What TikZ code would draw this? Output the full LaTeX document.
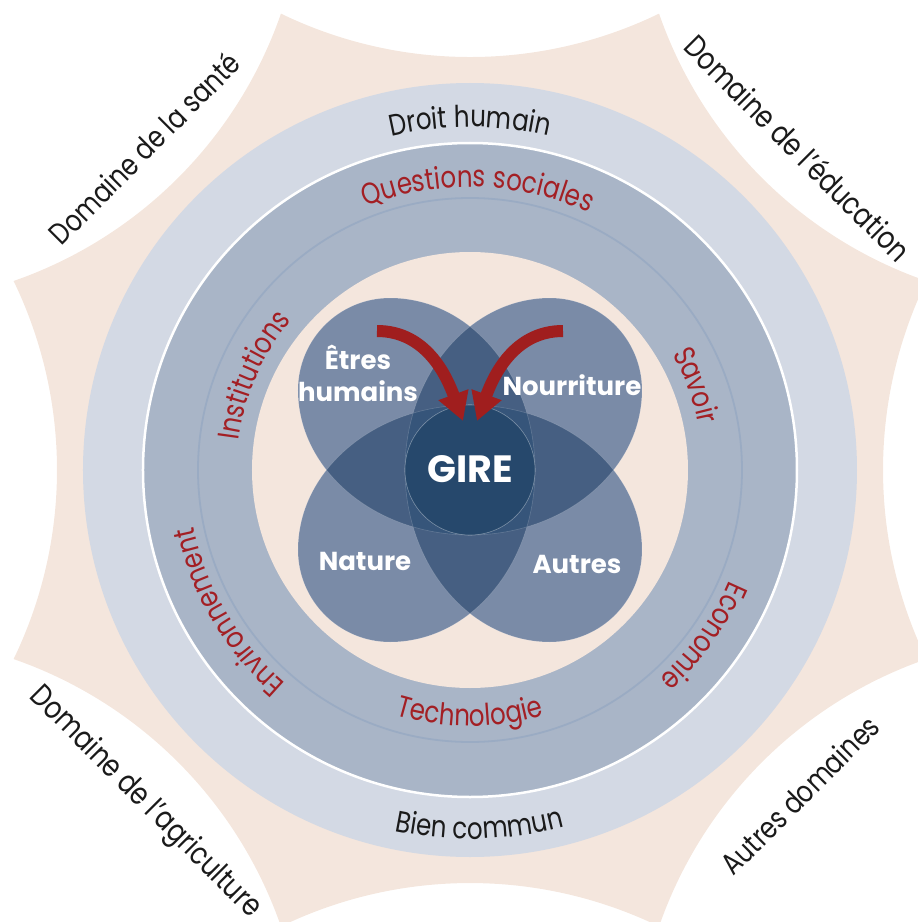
\documentclass[tikz,border=0pt]{standalone}
\usepackage{fontspec}
\setmainfont{Poppins}
\newfontfamily\ringfont[FakeStretch=0.82]{Poppins}
\usetikzlibrary{decorations.text, arrows.meta}

\definecolor{beige}{HTML}{F4E6DD}
\definecolor{ringA}{HTML}{D3D9E4}
\definecolor{ringB}{HTML}{A9B5C7}
\definecolor{thinline}{HTML}{9AABC3}
\definecolor{petA}{HTML}{7A8BA7}
\definecolor{petB}{HTML}{465F82}
\definecolor{petC}{HTML}{36557A}
\definecolor{petD}{HTML}{26486C}
\definecolor{txtred}{HTML}{A31F24}
\definecolor{txtdark}{HTML}{1A1A1A}
\definecolor{arrowred}{HTML}{A01E1E}

\def\petalpath{(0,-65) arc[start angle=270, end angle=180, x radius=172, y radius=145]
  arc[start angle=180, end angle=90, radius=92]
  arc[start angle=90, end angle=0, x radius=145, y radius=172]
  arc[start angle=0, end angle=-90, radius=65] -- cycle}

\tikzset{
  domlabel/.style={font=\ringfont\fontsize{30}{32}\selectfont, text=txtdark, inner sep=0pt},
  petlabel/.style={font=\bfseries\fontsize{26}{32}\selectfont, text=white, inner sep=0pt, align=center},
  redarrow/.style={draw=arrowred, line width=12pt, -{Triangle[width=30pt,length=28pt]}},
  outerring/.style={decorate, decoration={text along path, text align=center,
      text={|\ringfont\fontsize{30}{30}\selectfont\color{txtdark}|#1}}},
  midring/.style={decorate, decoration={text along path, text align=center,
      text={|\ringfont\fontsize{30}{30}\selectfont\color{txtred}|#1}}},
}

\begin{document}
\begin{tikzpicture}[x=1pt,y=1pt]
\useasboundingbox (-470,-452) rectangle (448,470);
\begin{scope}
\clip (-470,-452) rectangle (448,470);
\fill[beige] (112.5:494)
  \foreach \p [evaluate=\p as \sa using \p+154.14, evaluate=\p as \ea using \p+205.86]
  in {90,45,0,-45,-90,-135,-180,-225} { arc[start angle=\sa, end angle=\ea, radius=433.45] } -- cycle;
\end{scope}

% rings
\fill[ringA] (0,0) circle[radius=387];
\fill[ringB] (0,0) circle[radius=327];
\draw[white, line width=2.5pt] (0,0) circle[radius=327];
\draw[thinline, line width=1.8pt] (0,0) circle[radius=272];
\fill[beige] (0,0) circle[radius=218];

% petals
\foreach \r in {0,90,180,270} { \fill[petA, rotate=\r] \petalpath; }
\begin{scope}
  \clip \petalpath;
  \fill[petB, rotate=90] \petalpath;
  \fill[petB, rotate=-90] \petalpath;
\end{scope}
\begin{scope}
  \clip[rotate=180] \petalpath;
  \fill[petB, rotate=90] \petalpath;
  \fill[petB, rotate=-90] \petalpath;
\end{scope}
\begin{scope}
  \clip \petalpath;
  \clip[rotate=-90] \petalpath;
  \fill[petC, rotate=90] \petalpath;
  \fill[petC, rotate=180] \petalpath;
\end{scope}
\begin{scope}
  \clip[rotate=90] \petalpath;
  \clip[rotate=180] \petalpath;
  \fill[petC] \petalpath;
  \fill[petC, rotate=-90] \petalpath;
\end{scope}
\foreach \r in {0,90,180,270} { \draw[white, opacity=0.18, line width=0.6pt, rotate=\r] \petalpath; }

\node[circle, minimum size=130pt, inner sep=0pt, fill=petD, draw=white, draw opacity=0.3, line width=0.6pt] (gire) at (0,0) {};
\node[petlabel, font=\bfseries\fontsize{38}{40}\selectfont, anchor=base] (gtext) at (0,-12) {GIRE};

% petal labels
\node[petlabel] (etres) at (-112,97) {Êtres\\humains};
\node[petlabel, anchor=base] (nourr) at (102,75) {Nourriture};
\node[petlabel, anchor=base] (nature) at (-105,-100) {Nature};
\node[petlabel, anchor=base] (autres) at (107,-103) {Autres};

% arrows
\coordinate (tailL) at (-93,139);
\coordinate (tipL) at (-7,49);
\coordinate (tailR) at (93,139);
\coordinate (tipR) at (7,49);
\draw[redarrow] (tailL) to[out=0,in=110] (tipL);
\draw[redarrow] (tailR) to[out=180,in=70] (tipR);

% ring texts
\path[outerring={Droit humain}] (130:343) arc[start angle=130, end angle=50, radius=343];
\path[outerring={Bien commun}] (-128.5:369) arc[start angle=-128.5, end angle=-48.5, radius=369];
\path[midring={Questions sociales}] (128.4:283) arc[start angle=128.4, end angle=48.4, radius=283];
\path[midring={Savoir}] (50.5:233) arc[start angle=50.5, end angle=-9.5, radius=233];
\path[midring={Economie}] (-5.4:282) arc[start angle=-5.4, end angle=-65.4, radius=282];
\path[midring={Environnement}] (250.4:282) arc[start angle=250.4, end angle=170.4, radius=282];
\path[midring={Institutions}] (196.4:233) arc[start angle=196.4, end angle=116.4, radius=233];
\path[midring={Technologie}] (-130:256) arc[start angle=-130, end angle=-50, radius=256];

% domains
\node[domlabel, rotate=45] (sante) at (-326,322) {Domaine de la santé};
\node[domlabel, rotate=-45, font=\ringfont\fontsize{31}{32}\selectfont] (educ) at (328,322) {Domaine de l’éducation};
\node[domlabel, rotate=-45, font=\ringfont\fontsize{31}{32}\selectfont] (agri) at (-325,-333) {Domaine de l’agriculture};
\node[domlabel, rotate=45] (autdom) at (330,-325) {Autres domaines};
\end{tikzpicture}
\end{document}
